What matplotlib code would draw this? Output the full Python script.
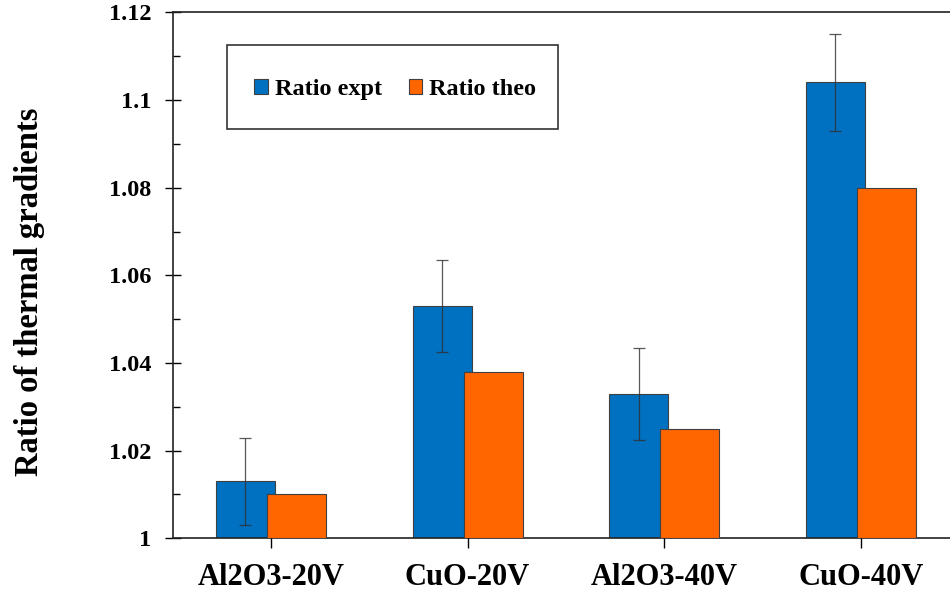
import numpy as np
import matplotlib.pyplot as plt
from matplotlib.patches import Rectangle
from matplotlib.ticker import MultipleLocator

# --- data ---
categories = ['Al2O3-20V', 'CuO-20V', 'Al2O3-40V', 'CuO-40V']
ratio_expt = [1.013, 1.053, 1.033, 1.104]
ratio_theo = [1.010, 1.038, 1.025, 1.080]
expt_err = [0.010, 0.0105, 0.0105, 0.011]

plt.rcParams['font.family'] = ['Liberation Serif', 'DejaVu Serif']
plt.rcParams['font.weight'] = 'bold'

fig = plt.figure(figsize=(9.5, 5.97), dpi=100)
ax = fig.add_axes([0.1818, 0.0983, 0.8277, 0.881])

x = np.arange(len(categories))
w = 0.30
off = 0.13

ax.bar(x - off, np.array(ratio_expt) - 1, w, bottom=1, color='#0070C0',
       edgecolor='#404040', linewidth=0.8, label='Ratio expt', zorder=2)
ax.bar(x + off, np.array(ratio_theo) - 1, w, bottom=1, color='#FF6600',
       edgecolor='#404040', linewidth=0.8, label='Ratio theo', zorder=3)
ax.errorbar(x - off, ratio_expt, yerr=expt_err, fmt='none', ecolor='#303030',
            elinewidth=0.9, capsize=4, capthick=0.9, alpha=0.8, zorder=4)

ax.set_xlim(-0.5, 3.5)
ax.set_ylim(1.0, 1.12)
ax.yaxis.set_minor_locator(MultipleLocator(0.01))
ax.set_yticks([1.0, 1.02, 1.04, 1.06, 1.08, 1.1, 1.12])
ax.set_yticklabels(['1', '1.02', '1.04', '1.06', '1.08', '1.1', '1.12'])
ax.set_xticks(x)
ax.set_xticklabels(categories)

ax.tick_params(axis='y', which='major', direction='inout', length=11, width=1,
               labelsize=17.5, pad=10)
ax.tick_params(axis='y', which='minor', direction='in', length=5, width=1)
ax.tick_params(axis='x', direction='inout', length=14, width=1,
               labelsize=22, pad=11)
for lab in ax.get_xticklabels() + ax.get_yticklabels():
    lab.set_fontweight('bold')

for s in ['left', 'bottom', 'top']:
    ax.spines[s].set_linewidth(1.2)
    ax.spines[s].set_color('#222222')
ax.spines['right'].set_visible(False)

fig.text(30 / 950, 1 - 292 / 597, 'Ratio of thermal gradients', rotation=90,
         ha='center', va='center', fontsize=23.5, fontweight='bold')

# legend box
ax.add_patch(Rectangle((0.0687, 0.7776), 0.4217, 0.1604, transform=ax.transAxes,
                       fill=False, edgecolor='#333333', linewidth=1.2, zorder=5))
ax.legend(loc='center', bbox_to_anchor=(0.283, 0.853), ncol=2, frameon=False,
          handlelength=0.55, handleheight=0.55, handletextpad=0.3,
          columnspacing=1.1, prop={'weight': 'bold', 'size': 17.5})

fig.savefig('out.png', dpi=100)
